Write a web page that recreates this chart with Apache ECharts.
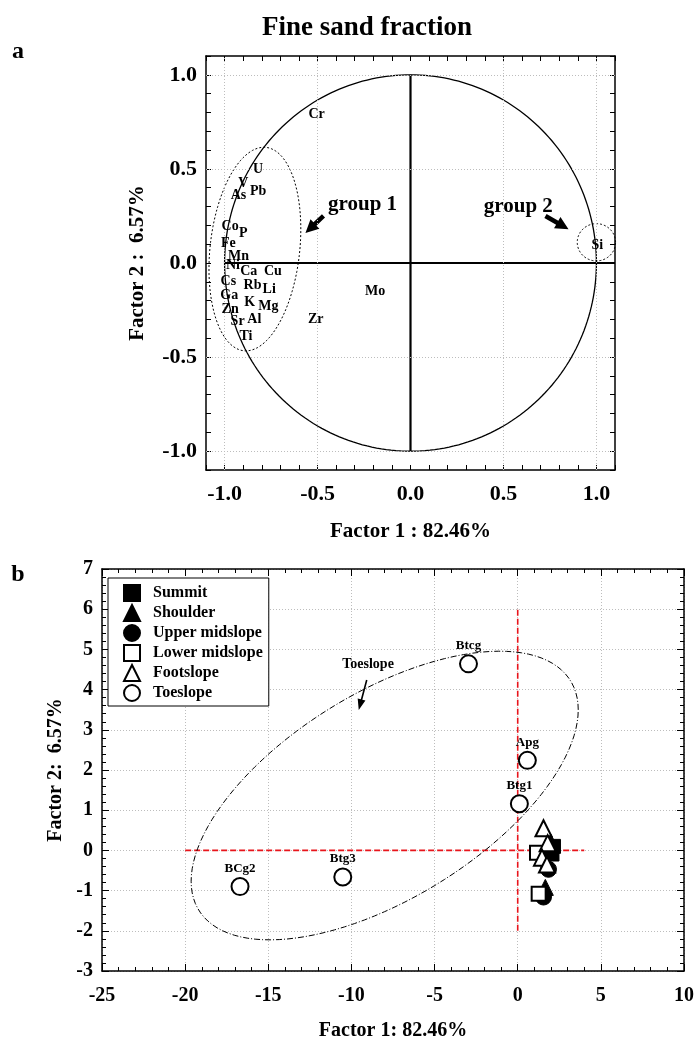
<!DOCTYPE html>
<html><head><meta charset="utf-8">
<script src="https://cdn.jsdelivr.net/npm/echarts@6/dist/echarts.min.js"></script>
<style>html,body{margin:0;padding:0;background:#fff}#c{width:698px;height:1042px}</style>
</head><body><div id="c"></div>
<script>
// ---------- Panel a: loadings (Factor 1 / Factor 2) ----------
const elementNames = ['Cr','U','V','Pb','As','Co','P','Fe','Mn','Ni','Ca','Cu','Cs','Rb','Li','Ga','K','Mg','Zn','Sr','Al','Ti','Mo','Zr','Si'];
const elementF1 = [-0.505,-0.82,-0.90,-0.82,-0.925,-0.97,-0.90,-0.98,-0.925,-0.955,-0.87,-0.74,-0.98,-0.85,-0.76,-0.975,-0.865,-0.765,-0.97,-0.93,-0.84,-0.885,-0.19,-0.51,1.005];
const elementF2 = [0.79,0.50,0.425,0.38,0.36,0.195,0.16,0.105,0.035,-0.015,-0.045,-0.045,-0.10,-0.12,-0.14,-0.17,-0.21,-0.23,-0.245,-0.31,-0.30,-0.39,-0.15,-0.30,0.095];
const topTickLabels = [-1.0,-0.5,0.0,0.5,1.0];

// ---------- Panel b: scores ----------
const summitF1 = [2.15, 2.06];      const summitF2 = [0.10, -0.09];
const shoulderF1 = [2.00, 1.66];    const shoulderF2 = [0.20, -0.92];
const upperF1 = [1.85, 1.55];       const upperF2 = [-0.47, -1.16];
const lowerF1 = [1.16, 1.26];       const lowerF2 = [-0.06, -1.08];
const footF1 = [1.55, 1.80, 1.46, 1.76]; const footF2 = [0.55, 0.18, -0.18, -0.35];
const toeNames = ['Btcg','Apg','Btg1','Btg3','BCg2'];
const toeF1 = [-2.96, 0.58, 0.10, -10.52, -16.7];
const toeF2 = [4.64, 2.24, 1.16, -0.66, -0.90];

const F = "'Liberation Serif','Times New Roman',serif";
const chart = echarts.init(document.getElementById('c'), null, {renderer:'canvas'});

function pts(xs, ys){ return xs.map((x,i)=>[x, ys[i]]); }

function ellipsePts(api, cx, cy, sx, sy, cxy){
  const a = cxy / sx, b = Math.sqrt(Math.max(sy*sy - a*a, 0));
  const out = [];
  for (let i = 0; i <= 120; i++){
    const t = i / 120 * Math.PI * 2;
    out.push(api.coord([cx + sx*Math.cos(t), cy + a*Math.cos(t) + b*Math.sin(t)]));
  }
  return out;
}
function arrowShape(api, tail, head, w, L, W){
  const p0 = api.coord(tail), p1 = api.coord(head);
  const dx = p1[0]-p0[0], dy = p1[1]-p0[1], len = Math.hypot(dx,dy);
  const ux = dx/len, uy = dy/len, nx = -uy, ny = ux;
  const bx = p1[0]-ux*L, by = p1[1]-uy*L;
  return [
    [p0[0]+nx*w/2, p0[1]+ny*w/2], [bx+nx*w/2, by+ny*w/2], [bx+nx*W/2, by+ny*W/2],
    [p1[0], p1[1]],
    [bx-nx*W/2, by-ny*W/2], [bx-nx*w/2, by-ny*w/2], [p0[0]-nx*w/2, p0[1]-ny*w/2]
  ];
}

const grid = [
  {left:206, top:56, width:409, height:414},
  {left:102, top:569, width:582, height:408}
];
const labFmt = v => { const r = Math.round(v*10); return (r % 5 === 0) ? (Math.round(v*10)/10).toFixed(1) : ''; };
const frameLine = {show:true, onZero:false, lineStyle:{color:'#000', width:1.5}};
const dotted = {show:true, lineStyle:{color:'#bdbdbd', type:[1,2], width:1}};
const tickA = {show:true, inside:true, length:5, lineStyle:{color:'#000'}};
const tickB = {show:true, inside:true, length:7, lineStyle:{color:'#000'}};
const minorB = {show:true, splitNumber:5, length:4, lineStyle:{color:'#000'}};

const xAxis = [
  {gridIndex:0, type:'value', min:-1.1, max:1.1, interval:0.1, axisLine:frameLine,
   axisTick:tickA, splitLine:{show:false},
   axisLabel:{formatter:labFmt, fontFamily:F, fontWeight:'bold', fontSize:22, color:'#000', margin:13},
   name:'Factor 1 : 82.46%', nameLocation:'middle', nameGap:51,
   nameTextStyle:{fontFamily:F, fontWeight:'bold', fontSize:21, color:'#000'}},
  {gridIndex:0, type:'value', position:'top', min:-1.1, max:1.1, interval:0.1, axisLine:frameLine,
   axisTick:tickA, axisLabel:{show:false}, splitLine:{show:false}},
  {gridIndex:1, type:'value', min:-25, max:10, interval:5, axisLine:frameLine,
   axisTick:tickB, minorTick:minorB, splitLine:dotted,
   axisLabel:{fontFamily:F, fontWeight:'bold', fontSize:20, color:'#000', margin:15},
   name:'Factor 1: 82.46%', nameLocation:'middle', nameGap:50,
   nameTextStyle:{fontFamily:F, fontWeight:'bold', fontSize:20, color:'#000'}},
  {gridIndex:1, type:'value', position:'top', min:-25, max:10, interval:5, axisLine:frameLine,
   axisTick:tickB, minorTick:minorB, axisLabel:{show:false}, splitLine:{show:false}}
];
const yAxis = [
  {gridIndex:0, type:'value', min:-1.1, max:1.1, interval:0.1, axisLine:frameLine,
   axisTick:tickA, splitLine:{show:false},
   axisLabel:{formatter:labFmt, fontFamily:F, fontWeight:'bold', fontSize:22, color:'#000', margin:9},
   name:'Factor 2 :  6.57%', nameLocation:'middle', nameGap:58, nameRotate:90,
   nameTextStyle:{fontFamily:F, fontWeight:'bold', fontSize:21, color:'#000'}},
  {gridIndex:0, type:'value', position:'right', min:-1.1, max:1.1, interval:0.1, axisLine:frameLine,
   axisTick:tickA, axisLabel:{show:false}, splitLine:{show:false}},
  {gridIndex:1, type:'value', min:-3, max:7, interval:1, axisLine:frameLine,
   axisTick:tickB, minorTick:minorB, splitLine:dotted,
   axisLabel:{fontFamily:F, fontWeight:'bold', fontSize:20, color:'#000', margin:9},
   name:'Factor 2:  6.57%', nameLocation:'middle', nameGap:36, nameRotate:90,
   nameTextStyle:{fontFamily:F, fontWeight:'bold', fontSize:20, color:'#000'}},
  {gridIndex:1, type:'value', position:'right', min:-3, max:7, interval:1, axisLine:frameLine,
   axisTick:tickB, minorTick:minorB, axisLabel:{show:false}, splitLine:{show:false}}
];

const gridMarks = [];
topTickLabels.filter(v => v !== 0).forEach(v => { gridMarks.push({xAxis:v}); gridMarks.push({yAxis:v}); });

const series = [
  {type:'custom', name:'annotA', xAxisIndex:0, yAxisIndex:0, silent:true, z:1, data:[[0,0]],
   markLine:{silent:true, symbol:'none', label:{show:false}, lineStyle:{color:'#bdbdbd', type:[1,2], width:1}, data:gridMarks},
   renderItem:(params, api) => {
     const circ = [];
     for (let i=0;i<=240;i++){ const t=i/240*Math.PI*2; circ.push(api.coord([Math.cos(t), Math.sin(t)])); }
     const a0 = api.coord([0,-1]), a1 = api.coord([0,1]), b0 = api.coord([-1,0]), b1 = api.coord([1.1,0]);
     const g1 = api.coord([-0.258,0.313]), g2 = api.coord([0.58,0.30]);
     return {type:'group', children:[
       {type:'polyline', shape:{points:circ}, style:{stroke:'#000', lineWidth:1.3, fill:null}},
       {type:'line', shape:{x1:a0[0], y1:a0[1], x2:a1[0], y2:a1[1]}, style:{stroke:'#000', lineWidth:2.2}},
       {type:'line', shape:{x1:b0[0], y1:b0[1], x2:b1[0], y2:b1[1]}, style:{stroke:'#000', lineWidth:2.2}},
       {type:'polygon', shape:{points:ellipsePts(api, -0.837, 0.074, 0.247, 0.541, 0.02615)}, style:{stroke:'#000', lineWidth:1, fill:null, lineDash:[2,2]}},
       {type:'polygon', shape:{points:ellipsePts(api, 1.0, 0.11, 0.103, 0.099, 0)}, style:{stroke:'#000', lineWidth:1, fill:null, lineDash:[2,2]}},
       {type:'polygon', shape:{points:arrowShape(api, [-0.468,0.25], [-0.565,0.16], 4.5, 13, 13)}, style:{fill:'#000'}},
       {type:'polygon', shape:{points:arrowShape(api, [0.726,0.25], [0.85,0.18], 4.5, 13, 13)}, style:{fill:'#000'}},
       {type:'text', x:g1[0], y:g1[1], style:{text:'group 1', font:"bold 21px "+F, fill:'#000', textAlign:'center', textVerticalAlign:'middle'}},
       {type:'text', x:g2[0], y:g2[1], style:{text:'group 2', font:"bold 21px "+F, fill:'#000', textAlign:'center', textVerticalAlign:'middle'}}
     ]};
   }},
  {type:'custom', name:'elements', xAxisIndex:0, yAxisIndex:0, silent:true, z:5,
   data: elementNames.map((n,i)=>[elementF1[i], elementF2[i]]),
   renderItem:(params, api) => {
     const p = api.coord([api.value(0), api.value(1)]);
     return {type:'text', x:p[0], y:p[1], style:{text:elementNames[params.dataIndex], font:"bold 14px "+F, fill:'#000', textAlign:'center', textVerticalAlign:'middle'}};
   }},

  {type:'custom', name:'annotB', xAxisIndex:2, yAxisIndex:2, silent:true, z:3, data:[[0,0]],
   renderItem:(params, api) => {
     const v0 = api.coord([0,-2]), v1 = api.coord([0,6]);
     const h0 = api.coord([-20,0]), h1 = api.coord([4,0]);
     const tl = api.coord([-9.0,4.62]);
     return {type:'group', children:[
       {type:'line', shape:{x1:v0[0], y1:v0[1], x2:v1[0], y2:v1[1]}, style:{stroke:'#e8141b', lineWidth:1.6, lineDash:[6,3]}},
       {type:'line', shape:{x1:h0[0], y1:h0[1], x2:h1[0], y2:h1[1]}, style:{stroke:'#e8141b', lineWidth:1.6, lineDash:[6,3]}},
       {type:'polygon', shape:{points:ellipsePts(api, -8.0, 1.365, 11.64, 3.59, 24.82)}, style:{stroke:'#000', lineWidth:1, fill:null, lineDash:[6,2,1,2]}},
       {type:'polygon', shape:{points:arrowShape(api, [-9.08,4.24], [-9.56,3.49], 1.6, 11, 8)}, style:{fill:'#000'}},
       {type:'text', x:tl[0], y:tl[1], style:{text:'Toeslope', font:"bold 14px "+F, fill:'#000', textAlign:'center', textVerticalAlign:'middle'}}
     ]};
   }},
  {type:'scatter', name:'Summit', xAxisIndex:2, yAxisIndex:2, z:5, symbol:'rect', symbolSize:14,
   itemStyle:{color:'#000', borderColor:'#000', borderWidth:1, opacity:1}, data:pts(summitF1, summitF2)},
  {type:'scatter', name:'Shoulder', xAxisIndex:2, yAxisIndex:2, z:5, symbol:'triangle', symbolSize:16,
   itemStyle:{color:'#000', borderColor:'#000', borderWidth:1, opacity:1}, data:pts(shoulderF1, shoulderF2)},
  {type:'scatter', name:'Upper midslope', xAxisIndex:2, yAxisIndex:2, z:5, symbol:'circle', symbolSize:16,
   itemStyle:{color:'#000', borderColor:'#000', borderWidth:1, opacity:1}, data:pts(upperF1, upperF2)},
  {type:'scatter', name:'Lower midslope', xAxisIndex:2, yAxisIndex:2, z:5, symbol:'rect', symbolSize:14,
   itemStyle:{color:'#fff', borderColor:'#000', borderWidth:2, opacity:1}, data:pts(lowerF1, lowerF2)},
  {type:'scatter', name:'Footslope', xAxisIndex:2, yAxisIndex:2, z:5, symbol:'triangle', symbolSize:16,
   itemStyle:{color:'#fff', borderColor:'#000', borderWidth:2, opacity:1}, data:pts(footF1, footF2)},
  {type:'scatter', name:'Toeslope', xAxisIndex:2, yAxisIndex:2, z:5, symbol:'circle', symbolSize:17,
   itemStyle:{color:'#fff', borderColor:'#000', borderWidth:2, opacity:1},
   label:{show:true, position:'top', distance:2, formatter:'{b}', fontFamily:F, fontWeight:'bold', fontSize:13, color:'#000'},
   data: toeNames.map((n,i)=>({name:n, value:[toeF1[i], toeF2[i]]}))}
];

chart.setOption({
  animation:false,
  backgroundColor:'#fff',
  grid: grid,
  xAxis: xAxis,
  yAxis: yAxis,
  legend:{show:true, orient:'vertical', left:108, top:578, padding:[6,6,4,15], itemGap:2,
    itemWidth:16, itemHeight:16, borderColor:'#000', borderWidth:1, backgroundColor:'#fff',
    data:['Summit','Shoulder','Upper midslope','Lower midslope','Footslope','Toeslope'],
    textStyle:{fontFamily:F, fontWeight:'bold', fontSize:16, lineHeight:16, color:'#000', padding:[0,0,0,8]}, selectedMode:false},
  graphic:[
    {type:'text', x:367, y:28, style:{text:'Fine sand fraction', font:"bold 27px "+F, fill:'#000', textAlign:'center', textVerticalAlign:'middle'}},
    {type:'text', x:18, y:52, style:{text:'a', font:"bold 24px "+F, fill:'#000', textAlign:'center', textVerticalAlign:'middle'}},
    {type:'text', x:18, y:575, style:{text:'b', font:"bold 24px "+F, fill:'#000', textAlign:'center', textVerticalAlign:'middle'}}
  ],
  series: series
});
</script>
</body></html>
